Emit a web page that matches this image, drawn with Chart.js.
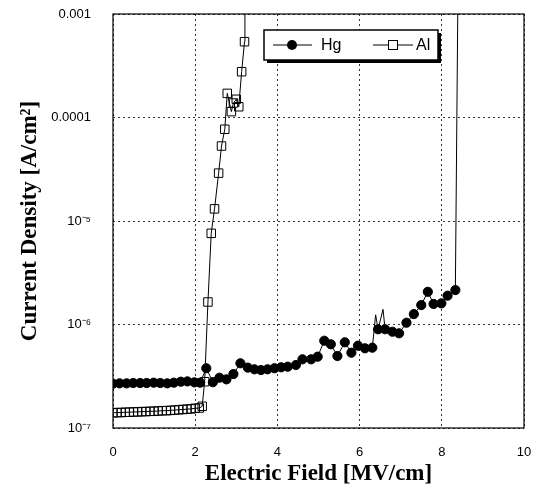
<!DOCTYPE html>
<html>
<head>
<meta charset="utf-8">
<script src="https://cdn.jsdelivr.net/npm/chart.js@4"></script>
<style>
  html, body { margin: 0; padding: 0; background: #fff; }
</style>
</head>
<body>
<canvas id="chart" width="535" height="498"></canvas>
<script>
// Hg electrode: electric field [MV/cm] and current density [A/cm2]
const hgField = [0, 0.16, 0.33, 0.49, 0.66, 0.82, 0.99, 1.15, 1.32, 1.48, 1.65, 1.81, 1.98, 2.12,
  2.27, 2.43, 2.59, 2.76, 2.93, 3.10, 3.28, 3.44, 3.60, 3.76, 3.93, 4.09, 4.25, 4.45, 4.61, 4.82, 4.98,
  5.14, 5.30, 5.46, 5.64, 5.80, 5.96, 6.13, 6.31, 6.39, 6.45, 6.57, 6.62, 6.80, 6.96, 7.14, 7.32, 7.50,
  7.66, 7.80, 7.99, 8.14, 8.33, 8.41];
const hgCurrent = [2.68e-7, 2.70e-7, 2.70e-7, 2.72e-7, 2.72e-7, 2.72e-7, 2.74e-7, 2.72e-7, 2.70e-7, 2.74e-7,
  2.80e-7, 2.82e-7, 2.76e-7, 2.74e-7,
  3.78e-7, 2.77e-7, 3.06e-7, 2.95e-7, 3.32e-7, 4.22e-7, 3.83e-7, 3.69e-7, 3.63e-7, 3.69e-7, 3.78e-7, 3.86e-7,
  3.91e-7, 4.06e-7, 4.61e-7, 4.61e-7, 4.89e-7,
  6.97e-7, 6.44e-7, 4.96e-7, 6.73e-7, 5.34e-7, 6.24e-7, 5.89e-7, 5.97e-7, 1.24e-6, 8.99e-7, 1.40e-6, 9.0e-7,
  8.51e-7, 8.22e-7, 1.04e-6, 1.26e-6, 1.54e-6, 2.07e-6, 1.58e-6, 1.60e-6, 1.90e-6, 2.15e-6, 1e-2];
// spikes in the Hg trace drawn without a marker
const hgSpikeField = [6.39, 6.57];

// Al electrode
const alField = [0, 0.1, 0.2, 0.3, 0.4, 0.5, 0.6, 0.7, 0.8, 0.9, 1.0, 1.1, 1.2, 1.3, 1.4, 1.5, 1.6, 1.7,
  1.8, 1.9, 2.0, 2.1, 2.17, 2.23, 2.31, 2.39, 2.47, 2.57, 2.64, 2.72, 2.78, 2.88, 2.93, 3.00, 3.06,
  3.13, 3.20, 3.21];
const alCurrent = [1.40e-7, 1.41e-7, 1.41e-7, 1.42e-7, 1.42e-7, 1.43e-7, 1.43e-7, 1.44e-7, 1.44e-7, 1.45e-7,
  1.45e-7, 1.46e-7, 1.47e-7, 1.47e-7, 1.48e-7, 1.49e-7, 1.50e-7, 1.51e-7, 1.52e-7, 1.53e-7, 1.55e-7,
  1.56e-7, 1.62e-7, 2.8e-7, 1.65e-6, 7.6e-6, 1.31e-5, 2.9e-5, 5.3e-5, 7.7e-5, 1.71e-4, 1.14e-4, 1.38e-4,
  1.50e-4, 1.27e-4, 2.77e-4, 5.4e-4, 1e-2];

const xTicks = [0, 2, 4, 6, 8, 10];
const yTicks = [1e-7, 1e-6, 1e-5, 1e-4, 1e-3];
const yTickLabels = ['10\u207B\u2077', '10\u207B\u2076', '10\u207B\u2075', '0.0001', '0.001'];

const Y_MAX = 1e-3;

function toPoints(xs, ys) {
    return xs.map((x, i) => ({ x: x, y: ys[i] }));
}

// solid frame round the plot area
const framePlugin = {
    id: 'frame',
    beforeDatasetsDraw(chart) {
        const a = chart.chartArea;
        const ctx = chart.ctx;
        ctx.save();
        ctx.strokeStyle = '#000';
        ctx.lineWidth = 1.2;
        ctx.strokeRect(a.left, a.top, a.right - a.left, a.bottom - a.top);
        ctx.restore();
    }
};

// boxed legend with drop shadow, inside the plot
const legendPlugin = {
    id: 'boxLegend',
    afterDraw(chart) {
        const ctx = chart.ctx;
        const bx = 264, by = 30, bw = 174, bh = 30;
        ctx.save();
        ctx.fillStyle = '#000';
        ctx.fillRect(bx + 3, by + 3, bw, bh);
        ctx.fillStyle = '#fff';
        ctx.fillRect(bx, by, bw, bh);
        ctx.strokeStyle = '#000';
        ctx.lineWidth = 1.5;
        ctx.strokeRect(bx, by, bw, bh);

        const cy = by + bh / 2;
        ctx.font = '16px "Liberation Sans", Arial, sans-serif';
        ctx.textBaseline = 'middle';
        ctx.fillStyle = '#000';
        ctx.lineWidth = 1;

        const sets = chart.data.datasets;
        // Hg entry
        ctx.beginPath();
        ctx.moveTo(273, cy);
        ctx.lineTo(312, cy);
        ctx.stroke();
        ctx.beginPath();
        ctx.arc(292, cy, 5, 0, Math.PI * 2);
        ctx.fill();
        ctx.fillText(sets[0].label, 321, cy + 1);
        // Al entry
        ctx.beginPath();
        ctx.moveTo(373, cy);
        ctx.lineTo(413, cy);
        ctx.stroke();
        ctx.fillStyle = '#fff';
        ctx.fillRect(388, cy - 5, 10, 10);
        ctx.strokeRect(388.5, cy - 4.5, 9, 9);
        ctx.fillStyle = '#000';
        ctx.fillText(sets[1].label, 416, cy + 1);
        ctx.restore();
    }
};

const ctx = document.getElementById('chart').getContext('2d');
new Chart(ctx, {
    type: 'scatter',
    data: {
        datasets: [
            {
                label: 'Hg',
                data: toPoints(hgField, hgCurrent),
                showLine: true,
                borderColor: '#000',
                borderWidth: 1,
                backgroundColor: '#000',
                pointBackgroundColor: '#000',
                pointBorderColor: '#000',
                pointRadius: (c) => {
                    const p = c.raw;
                    if (!p) return 4.6;
                    if (p.y > Y_MAX || hgSpikeField.includes(p.x)) return 0;
                    return 4.6;
                },
                pointHoverRadius: 0
            },
            {
                label: 'Al',
                data: toPoints(alField, alCurrent),
                showLine: true,
                borderColor: '#000',
                borderWidth: 1,
                backgroundColor: 'rgba(0,0,0,0)',
                pointStyle: 'rect',
                pointBackgroundColor: 'rgba(0,0,0,0)',
                pointBorderColor: '#000',
                pointBorderWidth: 1,
                pointRadius: (c) => (c.raw && c.raw.y > Y_MAX ? 0 : 6),
                pointHoverRadius: 0
            }
        ]
    },
    options: {
        responsive: false,
        devicePixelRatio: 1,
        animation: false,
        events: [],
        layout: {
            padding: { top: 14, right: 11, left: 0, bottom: 0 }
        },
        plugins: {
            legend: { display: false },
            tooltip: { enabled: false }
        },
        scales: {
            x: {
                type: 'linear',
                min: 0,
                max: 10,
                afterBuildTicks: (scale) => {
                    scale.ticks = xTicks.map(v => ({ value: v }));
                },
                afterFit: (scale) => {
                    scale.height = 70;
                    scale.paddingLeft = 0;
                    scale.paddingRight = 0;
                },
                ticks: {
                    color: '#000',
                    padding: 17,
                    font: { family: '"Liberation Sans", Arial, sans-serif', size: 13 },
                    maxRotation: 0
                },
                grid: {
                    color: '#333',
                    lineWidth: 1,
                    drawTicks: false
                },
                border: { display: false, dash: [2, 3] },
                title: {
                    display: true,
                    text: 'Electric Field [MV/cm]',
                    color: '#000',
                    padding: { top: 0, bottom: 10 },
                    font: { family: '"Liberation Serif", "Times New Roman", serif', size: 23, weight: 'bold' }
                }
            },
            y: {
                type: 'logarithmic',
                min: 1e-7,
                max: Y_MAX,
                afterBuildTicks: (scale) => {
                    scale.ticks = yTicks.map(v => ({ value: v }));
                },
                afterFit: (scale) => {
                    scale.width = 113;
                    scale.paddingTop = 0;
                    scale.paddingBottom = 0;
                },
                ticks: {
                    color: '#000',
                    padding: 22,
                    font: { family: '"Liberation Sans", Arial, sans-serif', size: 13 },
                    callback: (value) => {
                        const i = yTicks.findIndex(t => Math.abs(Math.log10(t) - Math.log10(value)) < 1e-6);
                        return i >= 0 ? yTickLabels[i] : '';
                    }
                },
                grid: {
                    color: '#333',
                    lineWidth: 1,
                    drawTicks: false
                },
                border: { display: false, dash: [2, 3] },
                title: {
                    display: true,
                    text: 'Current Density [A/cm\u00B2]',
                    color: '#000',
                    padding: { top: 16, bottom: 0 },
                    font: { family: '"Liberation Serif", "Times New Roman", serif', size: 23, weight: 'bold' }
                }
            }
        }
    },
    plugins: [framePlugin, legendPlugin]
});
</script>
</body>
</html>
